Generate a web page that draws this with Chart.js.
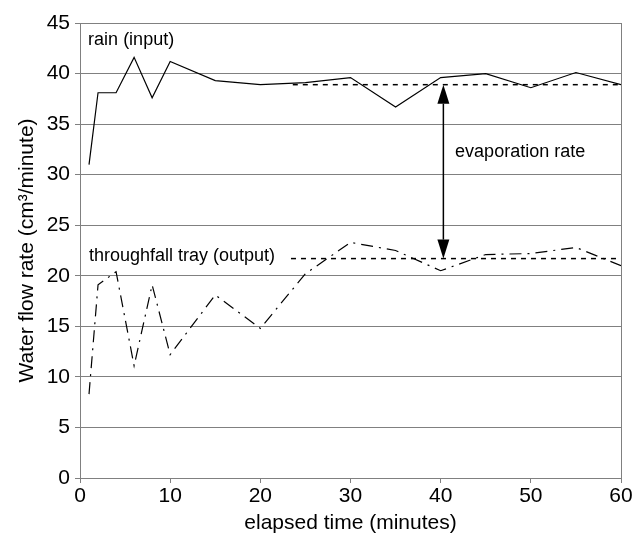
<!DOCTYPE html>
<html>
<head>
<meta charset="utf-8">
<script src="https://cdn.jsdelivr.net/npm/chart.js@4"></script>
<style>
  html, body { margin: 0; padding: 0; background: #fff; }
  #wrap { width: 634px; height: 541px; }
</style>
</head>
<body>
<div id="wrap"><canvas id="flowChart"></canvas></div>
<script>
// minutes
const rainTimes = [1, 2, 4, 6, 8, 10, 15, 20, 25, 30, 35, 40, 45, 50, 55, 60];
const rainValues = [31.0, 38.1, 38.1, 41.6, 37.6, 41.2, 39.3, 38.9, 39.1, 39.6, 36.7, 39.6, 40.0, 38.6, 40.1, 38.9];

const trayTimes = [1, 2, 4, 6, 8, 10, 15, 20, 25, 30, 35, 40, 45, 50, 55, 60];
const trayValues = [8.3, 19.1, 20.4, 11.1, 19.1, 12.2, 18.1, 14.8, 20.2, 23.3, 22.5, 20.5, 22.1, 22.2, 22.8, 21.0];

// steady-state levels (dashed lines)
const rainMeanTimes = [23.6, 60];
const rainMean = 38.9;
const trayMeanTimes = [23.4, 60];
const trayMean = 21.7;

// evaporation arrow
const arrowTime = 40.3;

const xTicks = [0, 10, 20, 30, 40, 50, 60];
const yTicks = [0, 5, 10, 15, 20, 25, 30, 35, 40, 45];

const toPoints = (xs, ys) => xs.map((x, i) => ({ x: x, y: ys[i] }));

const FONT = "'Liberation Sans', Arial, sans-serif";

const labelsPlugin = {
    id: "labels",
    afterDraw(chart) {
        const ctx = chart.ctx;
        const xs = chart.scales.x;
        const ys = chart.scales.y;
        const a = chart.chartArea;
        ctx.save();
        // frame
        ctx.strokeStyle = "#808080";
        ctx.lineWidth = 1;
        ctx.strokeRect(a.left + 0.5, a.top + 0.5, a.right - a.left, a.bottom - a.top);

        ctx.fillStyle = "#000";
        ctx.font = "18px " + FONT;
        ctx.textBaseline = "middle";
        ctx.textAlign = "left";
        ctx.fillText("rain (input)", xs.getPixelForValue(0.9), ys.getPixelForValue(43.3));
        ctx.fillText("throughfall tray (output)", xs.getPixelForValue(1.0), ys.getPixelForValue(21.95));
        ctx.fillText("evaporation rate", xs.getPixelForValue(41.6), ys.getPixelForValue(32.2));

        // double-headed arrow
        const ax = xs.getPixelForValue(arrowTime);
        const top = ys.getPixelForValue(rainMean);
        const bot = ys.getPixelForValue(trayMean);
        const headLen = 19, headW = 6;
        ctx.strokeStyle = "#000";
        ctx.lineWidth = 1.5;
        ctx.beginPath();
        ctx.moveTo(ax, top + headLen);
        ctx.lineTo(ax, bot - headLen);
        ctx.stroke();
        ctx.beginPath();
        ctx.moveTo(ax, top);
        ctx.lineTo(ax - headW, top + headLen);
        ctx.lineTo(ax + headW, top + headLen);
        ctx.closePath();
        ctx.fill();
        ctx.beginPath();
        ctx.moveTo(ax, bot);
        ctx.lineTo(ax - headW, bot - headLen);
        ctx.lineTo(ax + headW, bot - headLen);
        ctx.closePath();
        ctx.fill();
        ctx.restore();
    },
};

const ctx = document.getElementById("flowChart").getContext("2d");
const flowChart = new Chart(ctx, {
    type: "line",
    data: {
        datasets: [
            {
                label: "rain (input)",
                data: toPoints(rainTimes, rainValues),
                borderColor: "#000",
                borderWidth: 1.2,
            },
            {
                label: "throughfall tray (output)",
                data: toPoints(trayTimes, trayValues),
                borderColor: "#000",
                borderWidth: 1.2,
                borderDash: [12, 6, 2, 6],
            },
            {
                label: "rain mean",
                data: rainMeanTimes.map(x => ({ x: x, y: rainMean })),
                borderColor: "#000",
                borderWidth: 1.5,
                borderDash: [5, 5],
            },
            {
                label: "tray mean",
                data: trayMeanTimes.map(x => ({ x: x, y: trayMean })),
                borderColor: "#000",
                borderWidth: 1.5,
                borderDash: [5, 5],
            },
        ],
    },
    options: {
        responsive: true,
        maintainAspectRatio: false,
        animation: false,
        layout: { padding: { top: 23, right: 13, left: 0, bottom: 0 } },
        elements: {
            line: { tension: 0, fill: false },
            point: { radius: 0 },
        },
        plugins: {
            legend: { display: false },
            tooltip: { enabled: false },
        },
        scales: {
            x: {
                type: "linear",
                min: 0,
                max: 60,
                afterBuildTicks(scale) { scale.ticks = xTicks.map(v => ({ value: v })); },
                afterFit(scale) { scale.height = 63; },
                grid: { drawOnChartArea: false, drawTicks: true, tickLength: 5, color: "#808080" },
                border: { display: true, color: "#808080" },
                ticks: {
                    color: "#000",
                    padding: 1,
                    font: { family: FONT, size: 21 },
                },
                title: {
                    display: true,
                    text: "elapsed time (minutes)",
                    color: "#000",
                    padding: { top: 2, bottom: 5 },
                    font: { family: FONT, size: 21 },
                },
            },
            y: {
                min: 0,
                max: 45,
                afterBuildTicks(scale) { scale.ticks = yTicks.map(v => ({ value: v })); },
                afterFit(scale) { scale.width = 80; },
                grid: { color: "#808080", tickLength: 5, lineWidth: 1 },
                border: { display: true, color: "#808080" },
                ticks: {
                    color: "#000",
                    padding: 5,
                    font: { family: FONT, size: 21 },
                },
                title: {
                    display: true,
                    text: "Water flow rate (cm³/minute)",
                    color: "#000",
                    padding: { top: 15, bottom: 2 },
                    font: { family: FONT, size: 21 },
                },
            },
        },
    },
    plugins: [labelsPlugin],
});
</script>
</body>
</html>
